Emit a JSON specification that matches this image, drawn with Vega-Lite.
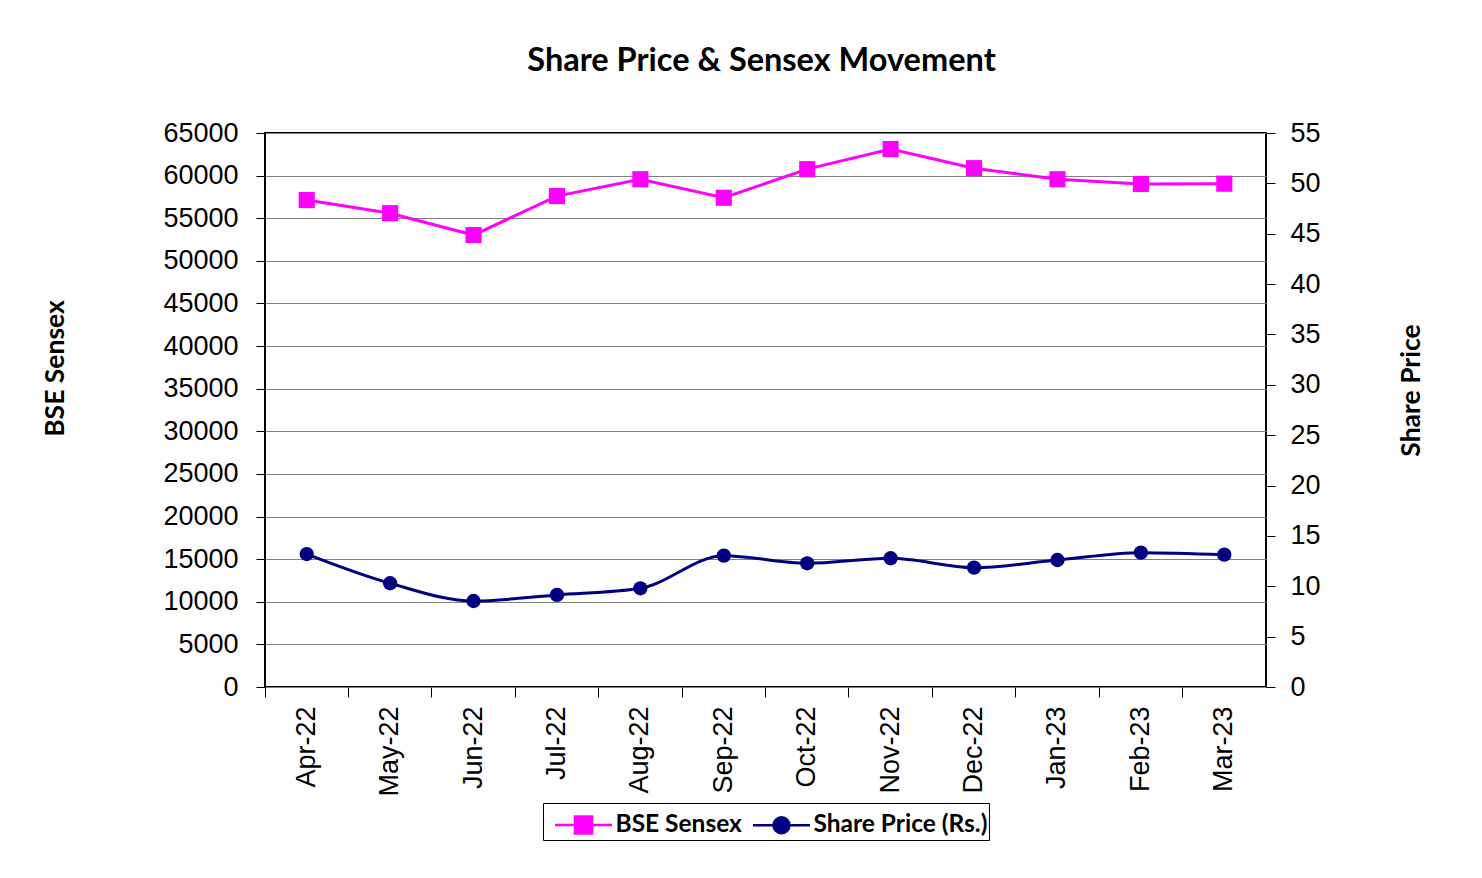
{
  "$schema": "https://vega.github.io/schema/vega-lite/v6.json",
  "autosize": {"type": "none"},
  "width": 1001,
  "height": 554,
  "padding": {"left": 265, "top": 133, "right": 216, "bottom": 191},
  "background": "white",
  "title": {
    "text": "Share Price & Sensex Movement",
    "font": "Lato",
    "fontSize": 32.5,
    "fontWeight": "bold",
    "color": "#000000",
    "anchor": "middle",
    "baseline": "alphabetic",
    "offset": 16,
    "dx": -4
  },
  "config": {
    "view": {"stroke": "#000000", "strokeWidth": 2},
    "axis": {
      "labelFont": "Liberation Sans",
      "labelFontSize": 27,
      "labelColor": "#000000",
      "titleFont": "Lato",
      "titleFontSize": 26.5,
      "titleFontWeight": "bold",
      "titleColor": "#000000",
      "domainColor": "#000000",
      "domainWidth": 2,
      "tickColor": "#000000",
      "tickWidth": 1
    }
  },
  "data": {
    "values": [
      {"month": "Apr-22", "series": "BSE Sensex", "value": 57128},
      {"month": "May-22", "series": "BSE Sensex", "value": 55591},
      {"month": "Jun-22", "series": "BSE Sensex", "value": 53026},
      {"month": "Jul-22", "series": "BSE Sensex", "value": 57600},
      {"month": "Aug-22", "series": "BSE Sensex", "value": 59574},
      {"month": "Sep-22", "series": "BSE Sensex", "value": 57400},
      {"month": "Oct-22", "series": "BSE Sensex", "value": 60757},
      {"month": "Nov-22", "series": "BSE Sensex", "value": 63121},
      {"month": "Dec-22", "series": "BSE Sensex", "value": 60875},
      {"month": "Jan-23", "series": "BSE Sensex", "value": 59574},
      {"month": "Feb-23", "series": "BSE Sensex", "value": 59019},
      {"month": "Mar-23", "series": "BSE Sensex", "value": 59054},
      {"month": "Apr-22", "series": "Share Price (Rs.)", "value": 13.2},
      {"month": "May-22", "series": "Share Price (Rs.)", "value": 10.3},
      {"month": "Jun-22", "series": "Share Price (Rs.)", "value": 8.54},
      {"month": "Jul-22", "series": "Share Price (Rs.)", "value": 9.14},
      {"month": "Aug-22", "series": "Share Price (Rs.)", "value": 9.8},
      {"month": "Sep-22", "series": "Share Price (Rs.)", "value": 13.04},
      {"month": "Oct-22", "series": "Share Price (Rs.)", "value": 12.28},
      {"month": "Nov-22", "series": "Share Price (Rs.)", "value": 12.78},
      {"month": "Dec-22", "series": "Share Price (Rs.)", "value": 11.85},
      {"month": "Jan-23", "series": "Share Price (Rs.)", "value": 12.61},
      {"month": "Feb-23", "series": "Share Price (Rs.)", "value": 13.34},
      {"month": "Mar-23", "series": "Share Price (Rs.)", "value": 13.14}
    ]
  },
  "layer": [
    {
      "transform": [{"filter": "datum.series === 'BSE Sensex'"}],
      "encoding": {
        "x": {
          "field": "month",
          "type": "ordinal",
          "sort": null,
          "scale": {"type": "band", "paddingInner": 0, "paddingOuter": 0},
          "axis": {"orient": "bottom", "title": null, "labels": false, "ticks": true, "tickSize": 10, "bandPosition": 0, "grid": false, "domain": false}
        },
        "y": {
          "field": "value",
          "type": "quantitative",
          "scale": {"domain": [0, 65000], "nice": false, "zero": true},
          "axis": {
            "orient": "left",
            "title": "BSE Sensex",
            "titleAngle": -90,
            "titleX": -210,
            "titleY": 235,
            "titleAlign": "center",
            "titleBaseline": "middle",
            "values": [0, 5000, 10000, 15000, 20000, 25000, 30000, 35000, 40000, 45000, 50000, 55000, 60000, 65000],
            "format": "d",
            "tickSize": 9,
            "labelPadding": 18,
            "grid": true,
            "gridColor": "#808080",
            "gridWidth": 1,
            "domain": false
          }
        },
        "color": {
          "field": "series",
          "type": "nominal",
          "scale": {"domain": ["BSE Sensex", "Share Price (Rs.)"], "range": ["#FF00FF", "#000080"]},
          "legend": {
            "title": null,
            "orient": "none",
            "legendX": 278,
            "legendY": 670,
            "direction": "horizontal",
            "strokeColor": "#000000",
            "fillColor": "#ffffff",
            "padding": 1,
            "labelFont": "Lato",
            "labelFontSize": 24.5,
            "labelFontWeight": "bold",
            "labelColor": "#000000",
            "labelLimit": 400,
            "labelOffset": 30.5,
            "columnPadding": -4,
            "symbolSize": 1444,
            "symbolStrokeWidth": 2.5,
            "encode": {
              "symbols": {
                "update": {
                  "shape": {"signal": "datum.value === 'BSE Sensex' ? 'M-0.5,0H2.5M0.55,-0.45H1.45V0.45H0.55Z' : 'M-0.5,0H2.5M1.42,0A0.42,0.42 0 1,1 0.58,0A0.42,0.42 0 1,1 1.42,0Z'"},
                  "fill": {"signal": "datum.value === 'BSE Sensex' ? '#FF00FF' : '#000080'"},
                  "stroke": {"signal": "datum.value === 'BSE Sensex' ? '#FF00FF' : '#000080'"},
                  "opacity": {"value": 1},
                  "fillOpacity": {"value": 1},
                  "strokeWidth": {"value": 2.5}
                }
              }
            }
          }
        }
      },
      "layer": [
        {"mark": {"type": "line", "strokeWidth": 3}},
        {"mark": {"type": "point", "shape": "square", "filled": true, "size": 260, "opacity": 1}}
      ]
    },
    {
      "transform": [{"filter": "datum.series === 'Share Price (Rs.)'"}],
      "encoding": {
        "x": {
          "field": "month",
          "type": "ordinal",
          "sort": null,
          "scale": {"type": "band", "paddingInner": 0, "paddingOuter": 0},
          "axis": {"orient": "bottom", "title": null, "labels": true, "ticks": false, "tickSize": 0, "labelAngle": -90, "labelAlign": "right", "labelBaseline": "middle", "labelPadding": 19, "grid": false, "domain": false}
        },
        "y": {
          "field": "value",
          "type": "quantitative",
          "scale": {"domain": [0, 55], "nice": false, "zero": true},
          "axis": {
            "orient": "right",
            "title": "Share Price",
            "titleAngle": -90,
            "titleX": 145,
            "titleY": 257,
            "titleAlign": "center",
            "titleBaseline": "middle",
            "values": [0, 5, 10, 15, 20, 25, 30, 35, 40, 45, 50, 55],
            "tickSize": 9,
            "labelPadding": 15,
            "grid": false,
            "domain": false
          }
        },
        "color": {"field": "series", "type": "nominal"}
      },
      "layer": [
        {"mark": {"type": "line", "strokeWidth": 3, "interpolate": "monotone"}},
        {"mark": {"type": "point", "shape": "circle", "filled": true, "size": 205, "opacity": 1}}
      ]
    }
  ],
  "resolve": {"scale": {"y": "independent"}, "axis": {"y": "independent", "x": "independent"}}
}
